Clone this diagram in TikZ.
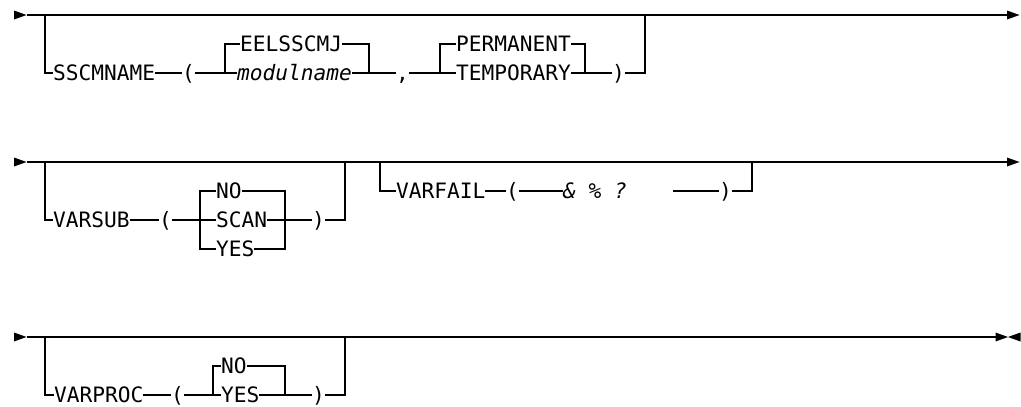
\documentclass[tikz,border=0pt]{standalone}
\usepackage{fontspec}
\newfontfamily\railfont{DejaVu Sans Mono}
\newcommand\railsize{\fontsize{21.2pt}{24pt}\selectfont}
\begin{document}
\begin{tikzpicture}[x=1pt,y=-1pt,
  rail/.style={line width=1.3pt, line join=miter},
  kw/.style={font=\railfont\railsize, inner sep=0pt, outer sep=0pt,
             text height=15.4pt, text depth=0pt, anchor=west},
  var/.style={kw, font=\railfont\itshape\railsize},
  pics/tipright/.style={code={\fill (0,-4.5) -- (12.5,0) -- (0,4.5) -- cycle;}},
  pics/tipleft/.style={code={\fill (12.5,-4.5) -- (0,0) -- (12.5,4.5) -- cycle;}}]
\useasboundingbox (0,0) rectangle (1021,407);

% ---------- first line: SSCMNAME ----------
\coordinate (r1s) at (27,15);
\coordinate (r1e) at (1007,15);
\coordinate (r1in) at (45,15);
\coordinate (r1out) at (645,15);
\pic at (14,15) {tipright};
\pic at (1007,15) {tipright};
\draw[rail] (r1s) -- (r1e);

\node[kw]  (sscm)  at (53,73)  {SSCMNAME};
\node[kw]  (lpa)   at (182,73) {(};
\node[kw]  (eel)   at (240,44) {EELSSCMJ};
\node[var] (mod)   at (237,73) {modulname};
\node[kw]  (comma) at (396,73) {,};
\node[kw]  (perm)  at (456,44) {PERMANENT};
\node[kw]  (temp)  at (456,73) {TEMPORARY};
\node[kw]  (rpa)   at (612,73) {)};
\coordinate (ja) at (225,73);
\coordinate (jb) at (369,73);
\coordinate (jc) at (440,73);
\coordinate (jd) at (585,73);

\draw[rail] (r1in) |- (sscm.west);
\draw[rail] (sscm.east) -- (lpa.west);
\draw[rail] (lpa.east) -- (mod.west);
\draw[rail] (ja) |- (eel.west);
\draw[rail] (eel.east) -| (jb);
\draw[rail] (mod.east) -- (comma.west);
\draw[rail] (comma.east) -- (temp.west);
\draw[rail] (jc) |- (perm.west);
\draw[rail] (perm.east) -| (jd);
\draw[rail] (temp.east) -- (rpa.west);
\draw[rail] (rpa.east) -| (r1out);

% ---------- second line: VARSUB, VARFAIL ----------
\coordinate (r2s) at (27,162);
\coordinate (r2e) at (1007,162);
\coordinate (r2in) at (45,162);
\coordinate (r2out) at (345,162);
\coordinate (r2in2) at (380,162);
\coordinate (r2out2) at (752,162);
\pic at (14,162) {tipright};
\pic at (1007,162) {tipright};
\draw[rail] (r2s) -- (r2e);

\node[kw] (vsub) at (53,220)  {VARSUB};
\node[kw] (lpb)  at (159,220) {(};
\node[kw] (no1)  at (216,191) {NO};
\node[kw] (scan) at (216,220) {SCAN};
\node[kw] (yes1) at (216,249) {YES};
\node[kw] (rpb)  at (312,220) {)};
\coordinate (jf) at (200,220);
\coordinate (jg) at (285,220);

\draw[rail] (r2in) |- (vsub.west);
\draw[rail] (vsub.east) -- (lpb.west);
\draw[rail] (lpb.east) -- (scan.west);
\draw[rail] (no1.west) -| (jf) |- (yes1.west);
\draw[rail] (no1.east) -| (jg) |- (yes1.east);
\draw[rail] (scan.east) -- (rpb.west);
\draw[rail] (rpb.east) -| (r2out);

\node[kw]  (vfail) at (396,191) {VARFAIL};
\node[kw]  (lpc)   at (506,191) {(};
\node[var] (chars) at (563,191) {\& \% ?};
\coordinate (vfgap) at (673,191);
\node[kw]  (rpc)   at (719,191) {)};

\draw[rail] (r2in2) |- (vfail.west);
\draw[rail] (vfail.east) -- (lpc.west);
\draw[rail] (lpc.east) -- (chars.west);
\draw[rail] (vfgap) -- (rpc.west);
\draw[rail] (rpc.east) -| (r2out2);

% ---------- third line: VARPROC ----------
\coordinate (r3s) at (27,337);
\coordinate (r3e) at (996,337);
\coordinate (r3in) at (45,337);
\coordinate (r3out) at (345,337);
\pic at (14,337) {tipright};
\pic at (995.5,337) {tipright};
\pic at (1008,337) {tipleft};
\draw[rail] (r3s) -- (r3e);

\node[kw] (vproc) at (54,395)  {VARPROC};
\node[kw] (lpd)   at (171,395) {(};
\node[kw] (no2)   at (221,366) {NO};
\node[kw] (yes2)  at (221,395) {YES};
\node[kw] (rpd)   at (312,395) {)};
\coordinate (jh) at (213,395);
\coordinate (ji) at (285,395);

\draw[rail] (r3in) |- (vproc.west);
\draw[rail] (vproc.east) -- (lpd.west);
\draw[rail] (lpd.east) -- (yes2.west);
\draw[rail] (jh) |- (no2.west);
\draw[rail] (no2.east) -| (ji);
\draw[rail] (yes2.east) -- (rpd.west);
\draw[rail] (rpd.east) -| (r3out);
\end{tikzpicture}
\end{document}
